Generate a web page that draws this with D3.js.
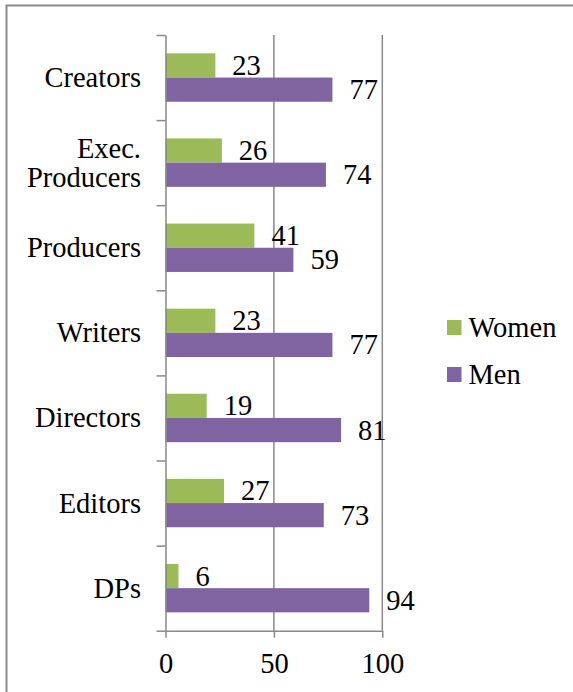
<!DOCTYPE html>
<html>
<head>
<meta charset="utf-8">
<script src="https://cdn.jsdelivr.net/npm/d3@7"></script>
<style>
  body { margin: 0; background: #fff; }
  svg text { font-family: "Liberation Serif", serif; font-size: 28.5px; fill: #000; }
</style>
</head>
<body>
<script>
// data
const categories = ["Creators", "Exec. Producers", "Producers", "Writers", "Directors", "Editors", "DPs"];
const women = [23, 26, 41, 23, 19, 27, 6];
const men = [77, 74, 59, 77, 81, 73, 94];
const seriesNames = ["Women", "Men"];
const seriesColors = ["#9bbb59", "#8064a2"];
const xTicks = [0, 50, 100];

// layout
const w = 573;
const h = 692;
const plotTop = 35;
const plotBottom = 630.7;
const plotLeft = 165.5;
const plotRight = 382.3;
const barH = 24.2;
const axisColor = "#898989";
const fontFam = "'Liberation Serif', serif";

const svg = d3.select("body").append("svg").attr("width", w).attr("height", h);

// outer frame (only top/left visible)
svg.append("rect")
  .attr("x", 6.5).attr("y", 5.5)
  .attr("width", 700).attr("height", 800)
  .attr("fill", "none")
  .attr("stroke", "#8c8c8c")
  .attr("stroke-width", 2);

// scales
const x = d3.scaleLinear().domain([0, 100]).range([plotLeft, plotRight]);
const y = d3.scaleBand().domain(categories).range([plotTop, plotBottom]).padding(0);
const yEdges = d3.scaleLinear().domain([0, categories.length]).range([plotTop, plotBottom]);

// gridlines
svg.append("g")
  .selectAll("line")
  .data(xTicks.filter((d) => d > 0))
  .join("line")
  .attr("x1", (d) => x(d)).attr("x2", (d) => x(d))
  .attr("y1", plotTop).attr("y2", plotBottom)
  .attr("stroke", axisColor)
  .attr("stroke-width", 1.5);

// bars
const rows = categories.map((c, i) => ({ cat: c, vals: [women[i], men[i]] }));
const groupOffset = (y.bandwidth() - 2 * barH) / 2;

const g = svg.append("g")
  .selectAll("g")
  .data(rows)
  .join("g")
  .attr("transform", (d) => `translate(0, ${y(d.cat) + groupOffset})`);

g.selectAll("rect")
  .data((d) => d.vals)
  .join("rect")
  .attr("x", x(0))
  .attr("y", (d, i) => i * barH)
  .attr("width", (d) => x(d) - x(0))
  .attr("height", barH)
  .attr("fill", (d, i) => seriesColors[i]);

// value labels
g.selectAll("text")
  .data((d) => d.vals)
  .join("text")
  .attr("x", (d) => x(d) + 17)
  .attr("y", (d, i) => i * barH + barH / 2 + 9.5)
  .style("font-family", fontFam)
  .text((d) => d);

// x axis
const xAxis = svg.append("g")
  .attr("transform", `translate(0, ${plotBottom})`)
  .call(d3.axisBottom(x).tickValues(xTicks).tickSize(7).tickSizeOuter(0));
xAxis.attr("font-family", null).attr("font-size", null);
xAxis.select(".domain").attr("stroke", axisColor).attr("stroke-width", 1.5);
xAxis.selectAll(".tick line").attr("stroke", axisColor).attr("stroke-width", 1.5);
xAxis.selectAll(".tick text")
  .attr("y", 42.5).attr("dy", null)
  .attr("fill", "#000")
  .style("font-family", fontFam);

// y axis (ticks between categories)
const yAxis = svg.append("g")
  .attr("transform", `translate(${plotLeft}, 0)`)
  .call(d3.axisLeft(yEdges).tickValues(d3.range(categories.length + 1)).tickSize(9).tickSizeOuter(0).tickFormat(""));
yAxis.select(".domain").attr("stroke", axisColor).attr("stroke-width", 1.5);
yAxis.selectAll(".tick line").attr("stroke", axisColor).attr("stroke-width", 1.5);

// category labels
const lineH = 29;
svg.append("g")
  .selectAll("text")
  .data(categories)
  .join("text")
  .attr("text-anchor", "end")
  .style("font-family", fontFam)
  .each(function (d) {
    const lines = d.split(" ");
    const cy = y(d) + y.bandwidth() / 2;
    const first = cy - ((lines.length - 1) * lineH) / 2 + 9.5;
    d3.select(this).selectAll("tspan")
      .data(lines)
      .join("tspan")
      .attr("x", 141)
      .attr("y", (l, i) => first + i * lineH)
      .text((l) => l);
  });

// legend
const legend = svg.append("g")
  .selectAll("g")
  .data(seriesNames)
  .join("g")
  .attr("transform", (d, i) => `translate(447, ${320 + i * 47})`);
legend.append("rect")
  .attr("width", 14.5).attr("height", 15)
  .attr("fill", (d, i) => seriesColors[i]);
legend.append("text")
  .attr("x", 21.5).attr("y", 16.5)
  .style("font-family", fontFam)
  .text((d) => d);
</script>
</body>
</html>
